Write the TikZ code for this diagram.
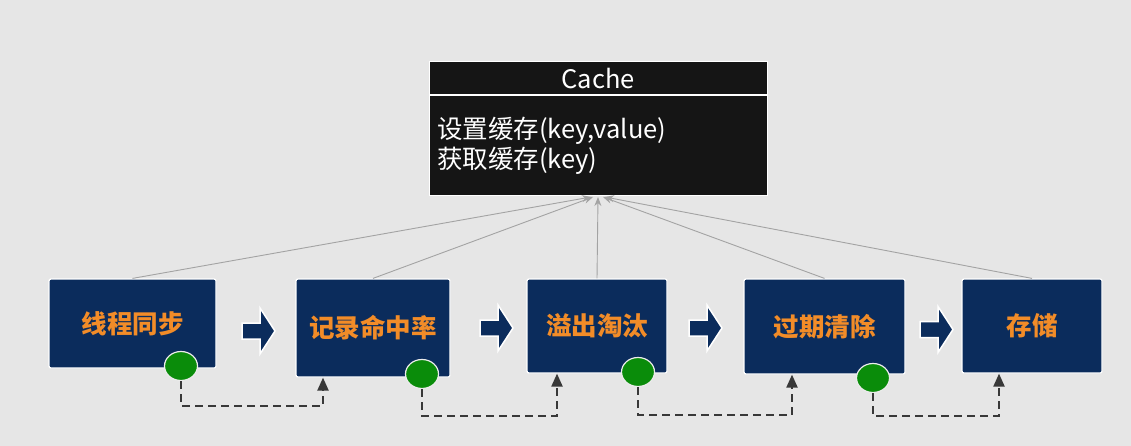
\documentclass[tikz,border=0pt]{standalone}
\usepackage{fontspec}
\setmainfont{Noto Sans CJK SC}
\usetikzlibrary{arrows.meta,calc,shapes.geometric}
\definecolor{bg}{HTML}{E6E6E6}
\definecolor{navy}{HTML}{0B2C5C}
\definecolor{orng}{HTML}{F28C28}
\definecolor{cblack}{HTML}{151515}
\definecolor{gline}{HTML}{A3A3A3}
\definecolor{dgreen}{HTML}{0A8C0A}
\definecolor{dash}{HTML}{383838}
\tikzset{
  stepbox/.style={draw=white, line width=1.2pt, fill=navy, rounded corners=2pt,
    text=orng, font=\fontsize{25.5}{28}\selectfont\bfseries, inner sep=0pt},
  cachepart/.style={draw=white, line width=1pt, fill=cblack, text=white, inner sep=0pt},
  blockarrow/.style={fill=navy, draw=white, line width=1.5pt, line join=miter},
  knob/.style={ellipse, fill=dgreen, draw=white!85!gray, line width=1.2pt,
    minimum width=33pt, minimum height=29pt, inner sep=0pt},
  dashconn/.style={draw=dash, line width=2.1pt, dash pattern=on 8pt off 5pt,
    -{Triangle[length=13pt,width=11pt]}},
  uses/.style={draw=gline, line width=0.9pt, -{Stealth[length=9pt,width=7pt]}}
}
\begin{document}
\begin{tikzpicture}[x=1pt,y=-1pt]
\useasboundingbox (0,0) rectangle (1131,446);
\fill[bg] (0,0) rectangle (1131,446);

% Cache class box
\node[cachepart, minimum width=338pt, minimum height=33pt,
  font=\fontsize{25.5}{27}\selectfont] (cachehead) at (598,78.5) {Cache};
\node[cachepart, minimum width=338pt, minimum height=100pt, anchor=north,
  font=\fontsize{25.5}{30}\selectfont, align=left, text width=322pt]
  (cachebody) at (cachehead.south) {设置缓存(key,value)\\获取缓存(key)\\[-6pt]};

% step boxes
\node[stepbox, minimum width=167pt, minimum height=89pt] (b1) at (132.5,323.5) {线程同步};
\node[stepbox, minimum width=154pt, minimum height=98pt] (b2) at (373,328) {记录命中率};
\node[stepbox, minimum width=140pt, minimum height=94pt] (b3) at (597,326) {溢出淘汰};
\node[stepbox, minimum width=161pt, minimum height=95pt] (b4) at (824.5,326.5) {过期清除};
\node[stepbox, minimum width=140pt, minimum height=94pt] (b5) at (1032,326) {存储};

% block arrows between steps
\foreach \x/\y in {242/331, 480/328, 689/328, 920/329.5}{
  \draw[blockarrow] (\x,\y-8) -- (\x+18,\y-8) -- (\x+18,\y-23) -- (\x+33,\y)
    -- (\x+18,\y+23) -- (\x+18,\y+8) -- (\x,\y+8) -- cycle;
}

% links to cache
\coordinate (h1) at (591,197);
\coordinate (h2) at (593,197);
\coordinate (h3) at (598,197);
\coordinate (h4) at (603,197);
\coordinate (h5) at (605,197);
\draw[uses] (b1.north) -- (h1);
\draw[uses] (b2.north) -- (h2);
\draw[uses] (b3.north) -- (h3);
\draw[uses] (b4.north) -- (h4);
\draw[uses] (b5.north) -- (h5);

% green knobs
\node[knob] (e1) at (181,366) {};
\node[knob] (e2) at (422,374) {};
\node[knob] (e3) at (638,372) {};
\node[knob] (e4) at (873,378) {};

% dashed feedback connectors
\coordinate (t1) at (323,406);
\coordinate (t2) at (557,416);
\coordinate (t3) at (792,415);
\coordinate (t4) at (999,416);
\draw[dashconn] (e1.south) |- (t1) -- (t1 |- b2.south);
\draw[dashconn] (e2.south) |- (t2) -- (t2 |- b3.south);
\draw[dashconn] (e3.south) |- (t3) -- (t3 |- b4.south);
\draw[dashconn] (e4.south) |- (t4) -- (t4 |- b5.south);
\end{tikzpicture}
\end{document}
